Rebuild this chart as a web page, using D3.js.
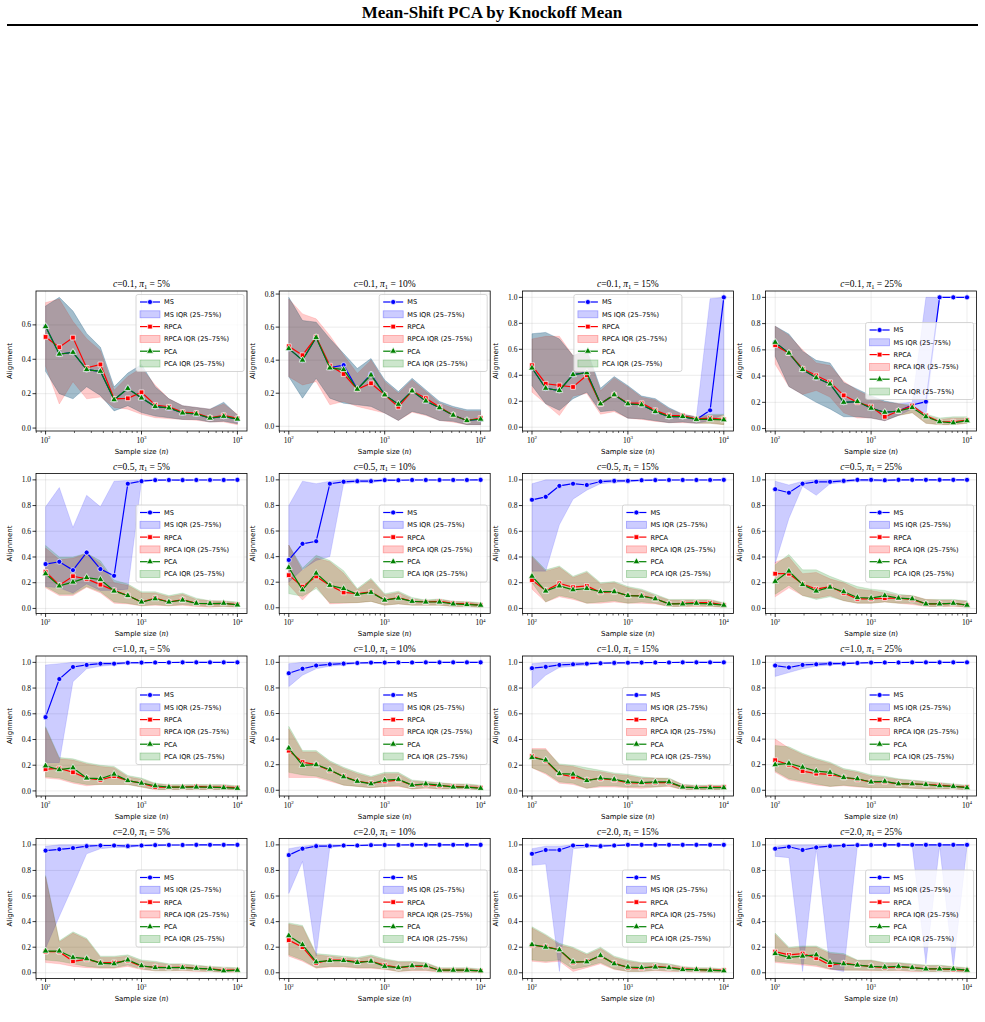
<!DOCTYPE html>
<html>
<head>
<meta charset="utf-8">
<script src="https://cdn.jsdelivr.net/npm/d3@7"></script>
<style>
  body { margin: 0; background: #fff; }
</style>
</head>
<body>
<div id="chart-area"></div>
<script>
// sample sizes on the x axis (log spaced)
const sampleSizes = [100, 139, 193, 268, 373, 518, 720, 1000, 1389, 1931, 2683, 3728, 5179, 7197, 10000];
const cLevels = ["0.1", "0.5", "1.0", "2.0"];
const piLevels = ["5", "10", "15", "25"];

// one row per panel, panels read left to right, top to bottom
const msMedian = [
  [0.59,0.43,0.44,0.34,0.33,0.165,0.23,0.175,0.125,0.117,0.088,0.082,0.058,0.068,0.052],
  [0.47,0.40,0.537,0.355,0.37,0.224,0.315,0.19,0.133,0.214,0.153,0.112,0.067,0.035,0.043],
  [0.456,0.30,0.283,0.405,0.42,0.18,0.25,0.18,0.173,0.12,0.082,0.082,0.06,0.13,1.0],
  [0.657,0.575,0.45,0.387,0.34,0.20,0.206,0.155,0.124,0.134,0.18,0.205,1.0,1.0,1.0],
  [0.345,0.363,0.298,0.435,0.306,0.254,0.97,0.99,0.998,0.999,0.998,0.999,0.999,0.999,1.0],
  [0.374,0.50,0.52,0.97,0.985,0.99,0.99,0.998,0.997,0.999,0.999,0.999,0.999,0.999,1.0],
  [0.845,0.868,0.953,0.97,0.96,0.987,0.992,0.992,0.997,0.998,0.999,0.999,0.999,0.999,1.0],
  [0.927,0.90,0.97,0.985,0.985,0.992,1.0,1.0,0.997,1.0,1.0,1.0,1.0,1.0,1.0],
  [0.574,0.87,0.964,0.98,0.99,0.99,0.997,0.998,0.999,0.999,1.0,1.0,1.0,1.0,1.0],
  [0.915,0.95,0.975,0.985,0.99,0.995,0.998,0.998,0.999,0.999,1.0,1.0,1.0,1.0,1.0],
  [0.955,0.965,0.98,0.985,0.99,0.993,0.996,0.997,0.998,0.999,0.999,1.0,1.0,1.0,1.0],
  [0.975,0.96,0.98,0.985,0.99,0.99,0.995,0.998,0.999,0.999,1.0,1.0,1.0,1.0,1.0],
  [0.955,0.965,0.975,0.99,0.995,0.995,0.99,0.995,0.998,0.999,0.999,1.0,1.0,1.0,1.0],
  [0.92,0.97,0.99,0.99,0.995,0.995,0.998,0.999,0.999,1.0,1.0,1.0,1.0,1.0,1.0],
  [0.93,0.96,0.96,0.995,0.995,0.99,0.995,1.0,1.0,1.0,1.0,1.0,1.0,1.0,1.0],
  [0.97,0.985,0.96,0.98,0.99,0.995,0.998,0.999,1.0,1.0,1.0,1.0,1.0,1.0,1.0]
];
const msQ25 = [
  [0.33,0.20,0.17,0.24,0.19,0.10,0.13,0.09,0.07,0.06,0.05,0.05,0.035,0.04,0.025],
  [0.30,0.17,0.29,0.17,0.14,0.13,0.12,0.08,0.035,0.09,0.07,0.035,0.03,0.01,0.01],
  [0.32,0.18,0.13,0.22,0.27,0.12,0.13,0.07,0.065,0.05,0.035,0.04,0.03,0.05,0.10],
  [0.55,0.32,0.26,0.20,0.15,0.09,0.09,0.08,0.06,0.10,0.15,0.10,1.0,1.0,1.0],
  [0.17,0.16,0.12,0.19,0.14,0.14,0.15,0.99,0.995,0.997,0.997,0.998,0.998,0.999,0.999],
  [0.20,0.30,0.37,0.40,0.97,0.98,0.98,0.99,0.995,0.997,0.998,0.998,0.999,0.999,0.999],
  [0.29,0.29,0.65,0.85,0.92,0.97,0.98,0.985,0.99,0.995,0.997,0.998,0.998,0.999,0.999],
  [0.35,0.70,0.95,0.88,0.97,0.98,0.99,0.99,0.99,0.995,0.997,0.998,0.998,0.999,0.999],
  [0.22,0.22,0.85,0.95,0.97,0.98,0.99,0.99,0.995,0.997,0.998,0.998,0.999,0.999,0.999],
  [0.81,0.90,0.95,0.97,0.98,0.99,0.99,0.995,0.995,0.997,0.998,0.998,0.999,0.999,0.999],
  [0.80,0.90,0.96,0.97,0.98,0.99,0.99,0.99,0.995,0.997,0.998,0.998,0.999,0.999,0.999],
  [0.89,0.92,0.95,0.97,0.98,0.99,0.99,0.995,0.995,0.997,0.998,0.998,0.999,0.999,0.999],
  [0.19,0.44,0.68,0.93,0.97,0.98,0.98,0.99,0.99,0.995,0.997,0.998,0.998,0.999,0.999],
  [0.62,0.87,0.13,0.98,0.99,0.99,0.995,0.997,0.998,0.998,0.999,0.999,0.999,0.999,0.999],
  [0.84,0.85,0.01,0.97,0.98,0.99,0.99,0.995,0.997,0.998,0.998,0.999,0.999,0.999,0.999],
  [0.91,0.90,0.01,0.97,0.03,0.01,0.99,0.995,0.997,0.998,0.99,0.07,0.99,0.04,0.99]
];
const msQ75 = [
  [0.71,0.76,0.68,0.55,0.47,0.24,0.32,0.37,0.24,0.17,0.13,0.12,0.11,0.15,0.075],
  [0.78,0.64,0.63,0.53,0.44,0.35,0.41,0.28,0.21,0.29,0.22,0.15,0.12,0.10,0.10],
  [0.72,0.73,0.68,0.55,0.60,0.30,0.39,0.32,0.24,0.22,0.15,0.10,0.08,0.99,1.0],
  [0.78,0.72,0.59,0.52,0.50,0.35,0.30,0.25,0.21,0.19,0.20,1.0,1.0,1.0,1.0],
  [0.79,0.94,0.63,0.88,0.79,0.99,0.995,1,1,1,1,1,1,1,1],
  [0.80,0.99,0.97,0.99,1,1,1,1,1,1,1,1,1,1,1],
  [0.97,1,1,1,1,1,1,1,1,1,1,1,1,1,1],
  [0.99,0.96,0.99,1,1,1,1,1,1,1,1,1,1,1,1],
  [0.98,0.99,1,1,1,1,1,1,1,1,1,1,1,1,1],
  [0.99,1,1,1,1,1,1,1,1,1,1,1,1,1,1],
  [0.99,1,1,1,1,1,1,1,1,1,1,1,1,1,1],
  [1,1,1,1,1,1,1,1,1,1,1,1,1,1,1],
  [0.99,1,1,1,1,1,1,1,1,1,1,1,1,1,1],
  [0.97,0.99,1,1,1,1,1,1,1,1,1,1,1,1,1],
  [0.97,0.99,0.99,1,1,1,1,1,1,1,1,1,1,1,1],
  [0.99,1,1,1,1,1,1,1,1,1,1,1,1,1,1]
];

const rpcaMedian = [
  [0.53,0.47,0.526,0.35,0.37,0.17,0.173,0.208,0.134,0.124,0.093,0.087,0.06,0.074,0.056],
  [0.484,0.43,0.54,0.367,0.316,0.224,0.26,0.19,0.118,0.214,0.17,0.116,0.067,0.035,0.05],
  [0.477,0.335,0.322,0.31,0.40,0.18,0.25,0.185,0.185,0.13,0.09,0.09,0.064,0.07,0.06],
  [0.636,0.575,0.456,0.405,0.353,0.253,0.20,0.168,0.09,0.134,0.175,0.10,0.052,0.052,0.064],
  [0.285,0.18,0.25,0.23,0.185,0.14,0.10,0.05,0.08,0.05,0.068,0.04,0.038,0.04,0.03],
  [0.255,0.165,0.245,0.175,0.12,0.11,0.125,0.06,0.08,0.05,0.045,0.05,0.035,0.03,0.02],
  [0.22,0.14,0.195,0.165,0.175,0.125,0.13,0.10,0.10,0.075,0.035,0.04,0.045,0.045,0.025],
  [0.27,0.27,0.19,0.15,0.17,0.12,0.075,0.075,0.08,0.08,0.07,0.035,0.035,0.04,0.025],
  [0.17,0.175,0.145,0.10,0.085,0.115,0.08,0.06,0.03,0.03,0.03,0.035,0.03,0.03,0.025],
  [0.31,0.22,0.20,0.155,0.11,0.07,0.055,0.07,0.08,0.04,0.045,0.035,0.03,0.025,0.02],
  [0.27,0.235,0.13,0.11,0.085,0.095,0.085,0.065,0.06,0.065,0.065,0.03,0.025,0.03,0.03],
  [0.235,0.20,0.15,0.13,0.125,0.10,0.085,0.065,0.065,0.05,0.05,0.045,0.04,0.03,0.025],
  [0.165,0.165,0.09,0.105,0.08,0.08,0.095,0.05,0.045,0.04,0.045,0.035,0.03,0.02,0.02],
  [0.255,0.20,0.075,0.10,0.10,0.085,0.09,0.06,0.04,0.05,0.05,0.02,0.02,0.02,0.015],
  [0.215,0.205,0.18,0.08,0.09,0.13,0.075,0.04,0.035,0.05,0.04,0.03,0.025,0.02,0.02],
  [0.165,0.14,0.15,0.115,0.06,0.075,0.06,0.05,0.04,0.045,0.04,0.03,0.03,0.025,0.02]
];
const rpcaQ25 = [
  [0.36,0.14,0.27,0.17,0.18,0.12,0.11,0.08,0.06,0.055,0.05,0.045,0.035,0.035,0.02],
  [0.30,0.25,0.27,0.13,0.15,0.12,0.10,0.08,0.035,0.085,0.065,0.035,0.025,0.01,0.01],
  [0.27,0.18,0.09,0.24,0.26,0.10,0.12,0.07,0.06,0.045,0.035,0.035,0.03,0.03,0.02],
  [0.49,0.32,0.26,0.29,0.24,0.12,0.08,0.08,0.06,0.10,0.12,0.04,0.03,0.03,0.04],
  [0.16,0.10,0.10,0.165,0.12,0.04,0.035,0.02,0.025,0.02,0.025,0.015,0.01,0.015,0.01],
  [0.18,0.06,0.17,0.03,0.035,0.04,0.05,0.02,0.03,0.02,0.02,0.02,0.01,0.01,0.005],
  [0.15,0.05,0.09,0.07,0.04,0.04,0.05,0.04,0.04,0.035,0.015,0.015,0.015,0.015,0.01],
  [0.09,0.16,0.10,0.08,0.10,0.06,0.04,0.04,0.05,0.04,0.03,0.015,0.015,0.015,0.01],
  [0.10,0.09,0.06,0.04,0.05,0.05,0.05,0.03,0.01,0.01,0.01,0.01,0.01,0.01,0.01],
  [0.10,0.10,0.10,0.07,0.04,0.03,0.02,0.03,0.03,0.01,0.015,0.01,0.01,0.01,0.005],
  [0.18,0.13,0.06,0.05,0.02,0.03,0.03,0.025,0.02,0.03,0.035,0.01,0.01,0.01,0.01],
  [0.14,0.08,0.06,0.04,0.03,0.035,0.025,0.02,0.02,0.02,0.015,0.01,0.01,0.01,0.005],
  [0.08,0.07,0.05,0.04,0.035,0.035,0.05,0.025,0.015,0.015,0.015,0.01,0.01,0.005,0.005],
  [0.13,0.09,0.035,0.045,0.045,0.035,0.035,0.025,0.01,0.015,0.015,0.005,0.005,0.005,0.005],
  [0.09,0.08,0.09,0.01,0.04,0.07,0.025,0.01,0.01,0.015,0.01,0.01,0.005,0.005,0.005],
  [0.08,0.07,0.06,0.05,0.025,0.02,0.02,0.015,0.015,0.015,0.01,0.01,0.01,0.01,0.005]
];
const rpcaQ75 = [
  [0.73,0.75,0.62,0.52,0.45,0.22,0.30,0.35,0.25,0.17,0.13,0.12,0.11,0.14,0.08],
  [0.77,0.68,0.65,0.55,0.43,0.32,0.40,0.27,0.20,0.28,0.21,0.14,0.11,0.09,0.09],
  [0.68,0.70,0.70,0.55,0.58,0.28,0.38,0.31,0.23,0.21,0.14,0.10,0.08,0.09,0.09],
  [0.78,0.71,0.60,0.50,0.48,0.36,0.29,0.24,0.20,0.19,0.17,0.10,0.07,0.08,0.08],
  [0.47,0.38,0.39,0.43,0.35,0.20,0.18,0.12,0.12,0.09,0.11,0.07,0.06,0.055,0.045],
  [0.49,0.29,0.39,0.36,0.27,0.14,0.22,0.10,0.12,0.07,0.055,0.065,0.05,0.045,0.035],
  [0.40,0.29,0.32,0.24,0.28,0.19,0.20,0.16,0.14,0.10,0.065,0.065,0.065,0.065,0.04],
  [0.36,0.40,0.27,0.28,0.23,0.20,0.15,0.14,0.12,0.10,0.10,0.07,0.065,0.065,0.055],
  [0.49,0.25,0.24,0.21,0.19,0.18,0.11,0.09,0.055,0.045,0.045,0.045,0.045,0.045,0.035],
  [0.48,0.30,0.30,0.22,0.17,0.13,0.10,0.13,0.13,0.07,0.065,0.055,0.05,0.045,0.035],
  [0.33,0.33,0.20,0.19,0.16,0.15,0.13,0.12,0.10,0.10,0.095,0.05,0.04,0.04,0.04],
  [0.40,0.33,0.28,0.24,0.21,0.16,0.14,0.11,0.10,0.085,0.075,0.065,0.055,0.045,0.035],
  [0.75,0.24,0.31,0.26,0.12,0.12,0.13,0.09,0.08,0.065,0.065,0.055,0.045,0.04,0.035],
  [0.38,0.36,0.14,0.13,0.12,0.11,0.13,0.10,0.085,0.085,0.075,0.035,0.035,0.035,0.025],
  [0.35,0.29,0.22,0.19,0.14,0.19,0.12,0.09,0.075,0.075,0.065,0.045,0.035,0.035,0.025],
  [0.30,0.19,0.20,0.20,0.15,0.14,0.095,0.095,0.075,0.075,0.065,0.055,0.055,0.045,0.035]
];

const pcaMedian = [
  [0.59,0.43,0.44,0.34,0.33,0.165,0.23,0.175,0.125,0.117,0.088,0.082,0.058,0.068,0.052],
  [0.47,0.40,0.537,0.353,0.343,0.224,0.31,0.19,0.133,0.214,0.153,0.112,0.067,0.035,0.043],
  [0.456,0.30,0.283,0.405,0.42,0.18,0.25,0.18,0.173,0.12,0.082,0.082,0.06,0.06,0.057],
  [0.657,0.575,0.45,0.387,0.34,0.20,0.206,0.155,0.124,0.134,0.16,0.09,0.052,0.044,0.06],
  [0.27,0.175,0.205,0.24,0.225,0.135,0.10,0.05,0.075,0.05,0.065,0.04,0.038,0.04,0.027],
  [0.315,0.14,0.27,0.175,0.15,0.105,0.12,0.06,0.075,0.05,0.045,0.045,0.03,0.025,0.02],
  [0.25,0.135,0.175,0.145,0.155,0.13,0.13,0.10,0.095,0.075,0.035,0.035,0.04,0.035,0.025],
  [0.21,0.29,0.185,0.135,0.165,0.13,0.085,0.08,0.10,0.08,0.075,0.035,0.035,0.04,0.025],
  [0.195,0.165,0.18,0.10,0.095,0.13,0.08,0.06,0.04,0.03,0.03,0.03,0.03,0.025,0.02],
  [0.33,0.195,0.20,0.16,0.105,0.07,0.05,0.08,0.085,0.04,0.05,0.04,0.025,0.025,0.015],
  [0.26,0.24,0.135,0.13,0.08,0.10,0.09,0.07,0.065,0.07,0.07,0.03,0.025,0.025,0.025],
  [0.20,0.21,0.18,0.15,0.14,0.10,0.09,0.065,0.07,0.05,0.05,0.045,0.035,0.03,0.02],
  [0.17,0.17,0.12,0.11,0.075,0.07,0.10,0.055,0.04,0.04,0.04,0.035,0.03,0.015,0.02],
  [0.29,0.22,0.085,0.095,0.095,0.08,0.09,0.05,0.04,0.055,0.055,0.02,0.02,0.02,0.015],
  [0.22,0.20,0.18,0.085,0.085,0.135,0.07,0.045,0.04,0.045,0.04,0.025,0.025,0.02,0.015],
  [0.15,0.12,0.13,0.14,0.08,0.07,0.06,0.05,0.045,0.05,0.04,0.03,0.03,0.03,0.02]
];
const pcaQ25 = [
  [0.33,0.20,0.17,0.24,0.19,0.10,0.13,0.09,0.07,0.06,0.05,0.05,0.035,0.04,0.025],
  [0.30,0.17,0.29,0.17,0.14,0.13,0.12,0.08,0.035,0.09,0.07,0.035,0.03,0.01,0.01],
  [0.32,0.18,0.13,0.22,0.27,0.12,0.13,0.07,0.065,0.05,0.035,0.04,0.03,0.03,0.02],
  [0.55,0.32,0.26,0.20,0.15,0.09,0.09,0.08,0.06,0.10,0.12,0.04,0.03,0.03,0.04],
  [0.17,0.11,0.11,0.17,0.13,0.05,0.04,0.02,0.03,0.02,0.03,0.02,0.015,0.015,0.01],
  [0.11,0.09,0.15,0.04,0.04,0.04,0.05,0.02,0.03,0.02,0.02,0.02,0.01,0.01,0.005],
  [0.20,0.05,0.10,0.08,0.04,0.05,0.06,0.04,0.05,0.04,0.015,0.015,0.02,0.015,0.01],
  [0.11,0.18,0.10,0.07,0.09,0.06,0.04,0.04,0.05,0.04,0.04,0.015,0.015,0.02,0.01],
  [0.11,0.10,0.07,0.05,0.05,0.05,0.05,0.03,0.01,0.01,0.01,0.01,0.01,0.01,0.01],
  [0.14,0.12,0.11,0.08,0.04,0.03,0.02,0.03,0.035,0.01,0.02,0.01,0.01,0.01,0.005],
  [0.18,0.14,0.07,0.06,0.02,0.04,0.04,0.03,0.03,0.03,0.04,0.01,0.01,0.01,0.01],
  [0.15,0.09,0.07,0.05,0.03,0.04,0.03,0.02,0.02,0.02,0.015,0.01,0.01,0.01,0.005],
  [0.10,0.09,0.07,0.05,0.04,0.04,0.06,0.03,0.015,0.015,0.02,0.015,0.01,0.005,0.01],
  [0.14,0.10,0.04,0.05,0.05,0.04,0.04,0.03,0.01,0.02,0.02,0.01,0.005,0.005,0.005],
  [0.10,0.09,0.10,0.03,0.05,0.08,0.03,0.01,0.01,0.02,0.015,0.01,0.01,0.005,0.005],
  [0.09,0.08,0.07,0.06,0.03,0.02,0.02,0.02,0.015,0.02,0.015,0.01,0.01,0.01,0.005]
];
const pcaQ75 = [
  [0.71,0.76,0.68,0.55,0.47,0.24,0.32,0.37,0.24,0.17,0.13,0.12,0.11,0.15,0.075],
  [0.78,0.64,0.63,0.53,0.44,0.35,0.41,0.28,0.21,0.29,0.22,0.15,0.12,0.10,0.10],
  [0.72,0.73,0.68,0.55,0.60,0.30,0.39,0.32,0.24,0.22,0.15,0.10,0.08,0.10,0.10],
  [0.78,0.72,0.59,0.52,0.50,0.35,0.30,0.25,0.21,0.19,0.18,0.11,0.08,0.09,0.09],
  [0.49,0.40,0.40,0.43,0.37,0.22,0.19,0.13,0.13,0.10,0.12,0.08,0.06,0.06,0.05],
  [0.49,0.31,0.41,0.37,0.29,0.15,0.23,0.11,0.13,0.08,0.06,0.07,0.05,0.05,0.04],
  [0.41,0.30,0.33,0.25,0.29,0.20,0.21,0.17,0.15,0.11,0.07,0.07,0.07,0.07,0.045],
  [0.34,0.42,0.30,0.30,0.25,0.21,0.17,0.15,0.14,0.11,0.10,0.07,0.07,0.07,0.06],
  [0.50,0.26,0.25,0.22,0.20,0.19,0.12,0.10,0.06,0.05,0.05,0.05,0.05,0.05,0.04],
  [0.50,0.31,0.31,0.23,0.18,0.14,0.11,0.14,0.14,0.08,0.07,0.06,0.05,0.05,0.04],
  [0.32,0.32,0.21,0.20,0.18,0.16,0.14,0.13,0.11,0.10,0.10,0.05,0.045,0.045,0.045],
  [0.35,0.34,0.29,0.25,0.22,0.17,0.15,0.12,0.11,0.09,0.08,0.07,0.06,0.05,0.04],
  [0.76,0.25,0.32,0.27,0.13,0.13,0.14,0.10,0.09,0.07,0.07,0.06,0.05,0.045,0.04],
  [0.39,0.37,0.15,0.14,0.13,0.12,0.14,0.11,0.09,0.09,0.08,0.04,0.04,0.04,0.03],
  [0.36,0.30,0.23,0.20,0.15,0.20,0.13,0.10,0.08,0.08,0.07,0.05,0.04,0.04,0.03],
  [0.31,0.20,0.21,0.21,0.16,0.15,0.10,0.10,0.08,0.08,0.07,0.06,0.06,0.05,0.04]
];

const serif = "'Liberation Serif', 'DejaVu Serif', serif";
const sans = "'DejaVu Sans', 'Liberation Sans', sans-serif";
const W = 211;
const H = 140;

const methods = [
  { name: "MS", color: "#0000ff", med: msMedian, lo: msQ25, hi: msQ75, symbol: d3.symbolCircle, size: 20 },
  { name: "RPCA", color: "#ff0000", med: rpcaMedian, lo: rpcaQ25, hi: rpcaQ75, symbol: d3.symbolSquare, size: 22 },
  { name: "PCA", color: "#008000", med: pcaMedian, lo: pcaQ25, hi: pcaQ75, symbol: d3.symbolTriangle, size: 20 }
];

const svg = d3
  .select("#chart-area")
  .append("svg")
  .attr("width", 985)
  .attr("height", 1022);

svg
  .append("text")
  .attr("x", 492)
  .attr("y", 18)
  .attr("text-anchor", "middle")
  .attr("font-family", serif)
  .attr("font-weight", "bold")
  .attr("font-size", 17)
  .text("Mean-Shift PCA by Knockoff Mean");

svg
  .append("line")
  .attr("x1", 7)
  .attr("x2", 978)
  .attr("y1", 25)
  .attr("y2", 25)
  .attr("stroke", "#000")
  .attr("stroke-width", 1.8);

for (let p = 0; p < 16; p++) {
  drawPanel(p);
}

function legendPlace(row, col) {
  if (row === 0 && col < 2) return "upper right";
  if (row === 0 && col === 2) return "upper center";
  return "center right";
}

function drawPanel(p) {
  const row = Math.floor(p / 4);
  const col = p % 4;
  const g = svg
    .append("g")
    .attr("transform", `translate(${36 + col * 243.2}, ${291 + row * 182.5})`);

  const x = d3
    .scaleLog()
    .domain([Math.pow(10, 1.9), Math.pow(10, 4.1)])
    .range([0, W]);

  const values = methods.flatMap((m) => [...m.med[p], ...m.lo[p], ...m.hi[p]]);
  const [vmin, vmax] = d3.extent(values);
  const pad = (vmax - vmin) * 0.05;
  const y = d3
    .scaleLinear()
    .domain([vmin - pad, vmax + pad])
    .range([H, 0]);

  const yTicks = y.ticks(5).filter((t) => t >= -1e-9);
  const xMajor = [100, 1000, 10000];
  const xMinor = [80, 90, 200, 300, 400, 500, 600, 700, 800, 900,
    2000, 3000, 4000, 5000, 6000, 7000, 8000, 9000];

  // grid
  g.append("g")
    .selectAll("line")
    .data(xMajor)
    .join("line")
    .attr("x1", (d) => x(d))
    .attr("x2", (d) => x(d))
    .attr("y1", 0)
    .attr("y2", H)
    .attr("stroke", "#b0b0b0")
    .attr("stroke-opacity", 0.3)
    .attr("stroke-width", 0.8);
  g.append("g")
    .selectAll("line")
    .data(yTicks)
    .join("line")
    .attr("x1", 0)
    .attr("x2", W)
    .attr("y1", (d) => y(d))
    .attr("y2", (d) => y(d))
    .attr("stroke", "#b0b0b0")
    .attr("stroke-opacity", 0.3)
    .attr("stroke-width", 0.8);

  // IQR bands
  methods.forEach((m) => {
    const area = d3
      .area()
      .x((d, i) => x(sampleSizes[i]))
      .y0((d, i) => y(m.lo[p][i]))
      .y1((d, i) => y(m.hi[p][i]));
    g.append("path")
      .attr("d", area(sampleSizes))
      .attr("fill", m.color)
      .attr("fill-opacity", 0.2)
      .attr("stroke", m.color)
      .attr("stroke-opacity", 0.2)
      .attr("stroke-width", 0.6);
  });

  // median lines with markers
  methods.forEach((m) => {
    const line = d3
      .line()
      .x((d, i) => x(sampleSizes[i]))
      .y((d) => y(d));
    g.append("path")
      .attr("d", line(m.med[p]))
      .attr("fill", "none")
      .attr("stroke", m.color)
      .attr("stroke-width", 1.2);
    g.append("g")
      .selectAll("path")
      .data(m.med[p])
      .join("path")
      .attr("transform", (d, i) => `translate(${x(sampleSizes[i])},${y(d)})`)
      .attr("d", d3.symbol(m.symbol, m.size))
      .attr("fill", m.color)
      .attr("stroke", "#fff")
      .attr("stroke-width", 0.7);
  });

  // frame
  g.append("rect")
    .attr("width", W)
    .attr("height", H)
    .attr("fill", "none")
    .attr("stroke", "#000")
    .attr("stroke-width", 0.8);

  // x ticks
  g.append("g")
    .selectAll("line")
    .data(xMajor)
    .join("line")
    .attr("x1", (d) => x(d))
    .attr("x2", (d) => x(d))
    .attr("y1", H)
    .attr("y2", H + 3.5)
    .attr("stroke", "#000")
    .attr("stroke-width", 0.8);
  g.append("g")
    .selectAll("line")
    .data(xMinor)
    .join("line")
    .attr("x1", (d) => x(d))
    .attr("x2", (d) => x(d))
    .attr("y1", H)
    .attr("y2", H + 2)
    .attr("stroke", "#000")
    .attr("stroke-width", 0.6);
  const xl = g
    .append("g")
    .selectAll("text")
    .data(xMajor)
    .join("text")
    .attr("x", (d) => x(d))
    .attr("y", H + 11.5)
    .attr("text-anchor", "middle")
    .attr("font-family", serif)
    .attr("font-size", 7.5);
  xl.append("tspan").text("10");
  xl.append("tspan")
    .attr("font-size", 5)
    .attr("dy", -3.3)
    .text((d) => Math.round(Math.log10(d)));

  // y ticks
  g.append("g")
    .selectAll("line")
    .data(yTicks)
    .join("line")
    .attr("x1", -3.5)
    .attr("x2", 0)
    .attr("y1", (d) => y(d))
    .attr("y2", (d) => y(d))
    .attr("stroke", "#000")
    .attr("stroke-width", 0.8);
  g.append("g")
    .selectAll("text")
    .data(yTicks)
    .join("text")
    .attr("x", -5)
    .attr("y", (d) => y(d) + 2.6)
    .attr("text-anchor", "end")
    .attr("font-family", serif)
    .attr("font-size", 7.5)
    .text((d) => d3.format(".1f")(d));

  // axis labels
  g.append("text")
    .attr("transform", `translate(-24, ${H / 2}) rotate(-90)`)
    .attr("text-anchor", "middle")
    .attr("font-family", sans)
    .attr("font-size", 7)
    .text("Alignment");
  const xt = g
    .append("text")
    .attr("x", W / 2)
    .attr("y", H + 22.5)
    .attr("text-anchor", "middle")
    .attr("font-family", sans)
    .attr("font-size", 7);
  xt.append("tspan").text("Sample size (");
  xt.append("tspan").attr("font-family", serif).attr("font-style", "italic").attr("font-size", 8).text("n");
  xt.append("tspan").text(")");

  // title
  const t = g
    .append("text")
    .attr("x", W / 2)
    .attr("y", -4)
    .attr("text-anchor", "middle")
    .attr("font-family", serif)
    .attr("font-size", 9.5);
  t.append("tspan").attr("font-style", "italic").text("c");
  t.append("tspan").text(`=${cLevels[row]}, `);
  t.append("tspan").attr("font-style", "italic").text("π");
  t.append("tspan").attr("font-size", 6.5).attr("dy", 1.8).text("1");
  t.append("tspan").attr("dy", -1.8).text(` = ${piLevels[col]}%`);

  drawLegend(g, legendPlace(row, col));
}

function drawLegend(g, place) {
  const lw = 108;
  const lh = 77;
  let bx = W - 3 - lw;
  let by = 3.5;
  if (place === "upper center") bx = (W - lw) / 2;
  if (place === "center right") by = (H - lh) / 2;

  const lg = g.append("g").attr("transform", `translate(${bx}, ${by})`);
  lg.append("rect")
    .attr("width", lw)
    .attr("height", lh)
    .attr("rx", 2)
    .attr("fill", "#fff")
    .attr("fill-opacity", 0.8)
    .attr("stroke", "#cccccc")
    .attr("stroke-width", 0.8);

  const entries = methods.flatMap((m) => [
    { m: m, kind: "line", label: m.name },
    { m: m, kind: "patch", label: `${m.name} IQR (25–75%)` }
  ]);

  entries.forEach((e, i) => {
    const cy = 7.5 + i * 12.3;
    if (e.kind === "line") {
      lg.append("line")
        .attr("x1", 4)
        .attr("x2", 24)
        .attr("y1", cy)
        .attr("y2", cy)
        .attr("stroke", e.m.color)
        .attr("stroke-width", 1.2);
      lg.append("path")
        .attr("transform", `translate(14, ${cy})`)
        .attr("d", d3.symbol(e.m.symbol, e.m.size))
        .attr("fill", e.m.color)
        .attr("stroke", "#fff")
        .attr("stroke-width", 0.7);
    } else {
      lg.append("rect")
        .attr("x", 4)
        .attr("y", cy - 3.5)
        .attr("width", 20)
        .attr("height", 7)
        .attr("fill", e.m.color)
        .attr("fill-opacity", 0.2)
        .attr("stroke", e.m.color)
        .attr("stroke-opacity", 0.3)
        .attr("stroke-width", 0.8);
    }
    lg.append("text")
      .attr("x", 28)
      .attr("y", cy + 2.4)
      .attr("font-family", sans)
      .attr("font-size", 6.6)
      .text(e.label);
  });
}
</script>
</body>
</html>
